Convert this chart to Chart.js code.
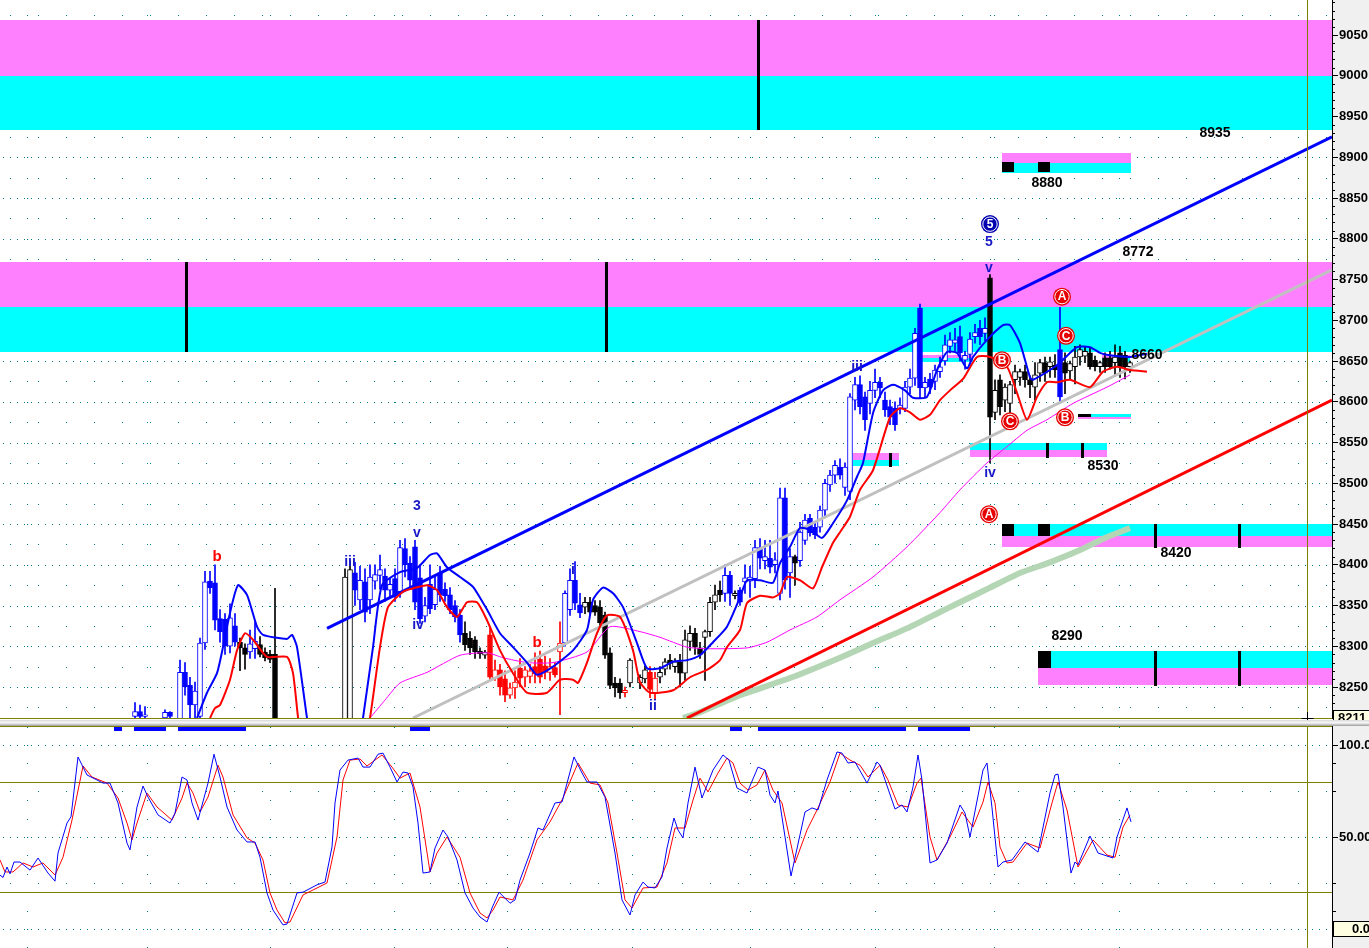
<!DOCTYPE html>
<html>
<head>
<meta charset="utf-8">
<title>Index futures – daily with stochastic</title>
<script src="https://cdn.jsdelivr.net/npm/chart.js@4.4.0/dist/chart.umd.min.js"></script>
<style>
  html, body { margin: 0; padding: 0; background: #ffffff; overflow: hidden; }
  #wrap { position: relative; width: 1369px; height: 948px; }
  #price { position: absolute; left: 0; top: 0; }
  #split { position: absolute; left: 0; top: 720px; width: 1369px; height: 6px;
           background: linear-gradient(#d8d8d8, #f8f8f8 45%, #c8c8c8 75%, #9a9a9a); }
  #osc { position: absolute; left: 0; top: 726px; }
</style>
</head>
<body>
<div id="wrap">
  <canvas id="price" width="1369" height="720"></canvas>
  <div id="split"></div>
  <canvas id="osc" width="1369" height="222"></canvas>
</div>
<script>
// ---------------------------------------------------------------------------
// Scale ranges
// ---------------------------------------------------------------------------
const SLOT_MAX = 266.4;          // bar slots across the price/oscillator area
const PRICE_MIN = 8212, PRICE_MAX = 9093;
const PRICE_STEP = 50;
const OSC_MIN = -10.33, OSC_MAX = 110.33;
const oscTicks = [0, 50, 100];
const oscTickText = ['0.00', '50.00', '100.0'];
const lastPrice = 8211;
const cursorSlot = 261.4;
const gridSlots = [5.4, 29.4, 54, 78.8, 101.4, 126.4, 150, 175, 198.8, 223.8];

// ---------------------------------------------------------------------------
// Daily bars: [slot, open, high, low, close, trend]  trend: b=up, r=down, k=neutral
// ---------------------------------------------------------------------------
const barsA = [
  [27,8214,8231,8210,8220,'b'],[28,8220,8228,8208,8214,'b'],[29,8214,8226,8208,8216,'b'],
  [33,8212,8222,8205,8219,'b'],[34,8219,8220,8210,8214,'b'],[36,8205,8283,8200,8268,'b'],
  [37,8268,8280,8240,8250,'b'],[38,8252,8262,8212,8228,'b'],[39,8228,8256,8210,8245,'b'],
  [40,8214,8310,8205,8304,'b'],[41,8304,8392,8296,8379,'b'],[42,8380,8392,8365,8372,'b'],
  [43,8378,8400,8320,8332,'b'],[44,8334,8345,8305,8318,'b'],[45,8333,8340,8290,8300,'b'],
  [46,8300,8352,8292,8335,'b'],[47,8325,8340,8300,8305,'b'],[48,8305,8310,8270,8298,'k'],
  [49,8298,8303,8272,8290,'k'],[50,8293,8320,8285,8303,'b'],[51,8297,8330,8285,8306,'b'],
  [52,8302,8312,8287,8290,'k'],[53,8293,8298,8282,8286,'k'],[54,8290,8295,8280,8284,'k'],
  [55,8290,8371,8150,8160,'k']
];
const barsB = [
  [69,8150,8395,8140,8385,'k'],[70,8160,8405,8150,8394,'k'],[71,8390,8403,8350,8369,'b'],
  [72,8357,8398,8345,8381,'b'],[73,8379,8395,8330,8342,'b'],[74,8357,8400,8340,8385,'b'],
  [75,8380,8400,8370,8388,'b'],[76,8387,8412,8370,8394,'b'],[77,8386,8395,8355,8369,'b'],
  [78,8369,8383,8360,8376,'b'],[79,8383,8395,8355,8362,'b'],[80,8367,8430,8360,8421,'b'],
  [81,8420,8432,8385,8400,'b'],[82,8402,8410,8370,8381,'b'],[83,8422,8430,8345,8354,'b'],
  [84,8384,8400,8328,8334,'b'],[85,8337,8360,8330,8350,'b'],[86,8376,8400,8340,8346,'b'],
  [87,8351,8385,8345,8370,'b'],[88,8390,8398,8355,8363,'b'],[89,8370,8378,8355,8362,'b'],
  [90,8363,8372,8340,8345,'b'],[91,8350,8356,8330,8336,'b'],[92,8338,8345,8305,8314,'b'],
  [93,8316,8330,8295,8302,'k'],[94,8310,8318,8290,8298,'k'],[95,8308,8312,8285,8293,'k'],
  [96,8294,8298,8285,8291,'k'],[97,8289,8295,8285,8293,'k'],[98,8314,8322,8258,8262,'r'],
  [99,8261,8283,8258,8271,'r'],[100,8271,8278,8240,8250,'r'],[101,8260,8270,8232,8240,'r'],
  [102,8240,8255,8236,8249,'r'],[103,8249,8270,8236,8256,'r'],[104,8273,8285,8250,8261,'r'],
  [105,8262,8275,8250,8271,'r'],[106,8263,8278,8255,8270,'r'],[107,8275,8292,8255,8266,'r'],
  [108,8284,8294,8255,8262,'r'],[109,8276,8288,8260,8268,'r'],[110,8268,8285,8258,8275,'r'],
  [111,8274,8280,8262,8265,'r'],[112,8293,8330,8216,8304,'r'],[113,8304,8368,8300,8365,'b'],
  [114,8345,8395,8338,8381,'b'],[115,8381,8404,8345,8353,'b'],[116,8351,8365,8335,8341,'b'],
  [117,8348,8360,8340,8354,'k'],[118,8354,8360,8338,8342,'k'],[119,8350,8356,8338,8342,'k'],
  [120,8348,8356,8325,8329,'k'],[121,8338,8342,8285,8289,'k'],[122,8292,8298,8248,8252,'k'],
  [123,8255,8262,8238,8249,'k'],[124,8255,8260,8236,8243,'k'],[125,8243,8250,8238,8246,'r'],
  [126,8255,8285,8250,8283,'k']
];
const barsC = [
  [128,8255,8265,8248,8262,'k'],[129,8260,8276,8255,8271,'k'],[130,8268,8275,8237,8247,'r'],
  [131,8243,8268,8235,8261,'r'],[132,8262,8275,8255,8268,'k'],[133,8272,8285,8265,8281,'k'],
  [134,8283,8290,8272,8279,'k'],[135,8275,8285,8268,8281,'k'],[136,8281,8290,8250,8267,'k'],
  [137,8267,8320,8258,8308,'k'],[138,8306,8325,8295,8316,'k'],[139,8316,8322,8290,8299,'k'],
  [140,8298,8305,8285,8290,'k'],[141,8311,8320,8258,8318,'k'],[142,8318,8360,8312,8354,'k'],
  [143,8354,8375,8345,8363,'k'],[144,8369,8380,8355,8363,'k'],[145,8365,8400,8355,8387,'b'],
  [146,8387,8392,8350,8365,'b'],[147,8362,8368,8358,8365,'k'],[148,8369,8372,8350,8354,'b'],
  [149,8379,8400,8365,8384,'b'],[150,8380,8398,8360,8385,'b'],[151,8383,8430,8372,8421,'b'],
  [152,8421,8432,8395,8408,'b'],[153,8405,8430,8395,8410,'b'],[154,8408,8430,8390,8397,'b'],
  [155,8400,8415,8390,8406,'b'],[156,8365,8494,8357,8482,'b'],[157,8482,8494,8370,8381,'b'],
  [158,8390,8420,8360,8410,'b'],[159,8410,8412,8375,8402,'k'],[160,8405,8452,8398,8440,'b'],
  [161,8430,8462,8425,8455,'b'],[162,8457,8462,8435,8439,'b'],[163,8446,8452,8432,8437,'b'],
  [164,8446,8472,8440,8467,'b'],[165,8467,8505,8460,8500,'b'],[166,8498,8516,8490,8510,'b'],
  [167,8510,8528,8500,8522,'b'],[168,8520,8530,8505,8510,'b'],[169,8495,8525,8485,8520,'b'],
  [170,8490,8610,8480,8606,'b'],[171,8602,8630,8590,8621,'b'],[172,8621,8632,8585,8594,'b'],
  [173,8606,8612,8565,8578,'b'],[174,8598,8625,8585,8614,'b'],[175,8614,8640,8605,8624,'b'],
  [176,8624,8630,8605,8617,'b'],[177,8602,8612,8582,8590,'b'],[178,8594,8602,8572,8581,'b'],
  [179,8592,8600,8565,8572,'b'],[180,8592,8605,8585,8596,'b'],[181,8592,8625,8588,8618,'b'],
  [182,8618,8640,8610,8629,'b'],[183,8629,8690,8620,8684,'b'],[184,8715,8720,8605,8617,'b'],
  [185,8617,8630,8605,8624,'b'],[186,8628,8635,8610,8618,'b'],[187,8625,8645,8615,8639,'b'],
  [188,8637,8655,8630,8643,'b'],[189,8650,8682,8645,8670,'b'],[190,8668,8685,8660,8676,'b'],
  [191,8672,8690,8662,8676,'b'],[192,8680,8693,8650,8660,'b'],[193,8651,8662,8640,8657,'b'],
  [194,8658,8685,8650,8677,'b'],[195,8680,8695,8672,8685,'b'],[196,8690,8700,8670,8680,'b'],
  [197,8684,8703,8675,8690,'b'],[198,8752,8756,8525,8581,'k'],[199,8587,8627,8578,8614,'k'],
  [200,8627,8633,8584,8594,'k'],[201,8602,8622,8588,8618,'k'],[202,8598,8625,8585,8621,'k'],
  [203,8627,8645,8610,8637,'k'],[204,8630,8640,8620,8637,'k'],[205,8637,8645,8618,8627,'k'],
  [206,8627,8632,8605,8621,'k'],[207,8618,8648,8602,8633,'k'],[208,8635,8652,8625,8648,'k'],
  [209,8648,8655,8625,8635,'k'],[210,8643,8655,8630,8649,'k'],[211,8645,8658,8630,8639,'k'],
  [212,8664,8716,8598,8606,'b'],[213,8648,8660,8610,8635,'k'],[214,8638,8650,8628,8647,'k'],
  [215,8643,8668,8622,8655,'k'],[216,8655,8670,8645,8664,'k'],[217,8656,8668,8648,8662,'k'],
  [218,8660,8666,8640,8643,'k'],[219,8651,8656,8638,8643,'k'],[220,8643,8650,8636,8648,'k'],
  [221,8654,8660,8636,8643,'k'],[222,8654,8662,8640,8643,'k'],[223,8648,8670,8633,8655,'k'],
  [224,8660,8668,8630,8643,'k'],[225,8657,8662,8628,8643,'k'],[226,8643,8650,8636,8648,'k']
];

// ---------------------------------------------------------------------------
// Averages and trend lines: [slot, price]
// ---------------------------------------------------------------------------
const maFast = [
  [39.4,8212],[41.4,8243],[43.4,8267],[44.6,8299],[46,8341],[47.6,8375],[49.4,8363],[51.4,8324],
  [52.6,8314],[57.4,8309],[58.4,8314],[59.4,8299],[61.4,8212],[63,8150],[71,8150],[72.6,8212],
  [74.6,8299],[76.4,8375],[80,8391],[83.4,8396],[86,8412],[87.4,8414],[89.4,8397],[92,8385],
  [94.6,8373],[97.4,8345],[100,8316],[102.6,8299],[105.4,8280],[107.4,8265],[110.6,8275],
  [114.6,8295],[117.4,8320],[118.6,8357],[120.6,8372],[122.6,8365],[124.6,8348],[127.4,8304],
  [129.4,8273],[132,8273],[134.6,8281],[137.4,8283],[140,8289],[142.6,8305],[145.4,8324],
  [148,8360],[149.4,8381],[152,8381],[154.6,8378],[156,8402],[158,8422],[160,8445],[162,8443],
  [164.4,8433],[166.6,8451],[169.4,8479],[171.4,8508],[172.6,8525],[174.6,8586],[176.6,8614],
  [178.6,8621],[181,8614],[182.6,8605],[185.4,8606],[187.4,8639],[189.4,8661],[191.4,8660],
  [193.4,8641],[194.6,8655],[197.4,8676],[200.6,8694],[202,8694],[204,8672],[206,8630],
  [206.6,8627],[210,8639],[212,8648],[215.4,8667],[218,8667],[220,8660],[222,8657],[226,8655],
  [229.4,8659]
];
const maSlow = [
  [42,8212],[43,8224],[44,8228],[46,8259],[47.4,8295],[49,8316],[50.6,8308],[53.4,8287],
  [57.4,8287],[58.6,8267],[59.6,8213],[61,8150],[72,8150],[74,8212],[76,8299],[77.6,8348],
  [80.6,8367],[82.6,8371],[85.4,8375],[87.4,8369],[89.4,8348],[91.4,8336],[93.4,8354],
  [95.4,8354],[97.4,8332],[100,8295],[102.6,8267],[105.4,8243],[109.4,8243],[112,8259],
  [114.6,8259],[115.6,8255],[117.4,8280],[119.4,8316],[121.4,8338],[124,8336],[126.6,8295],
  [128,8256],[130,8243],[134.6,8246],[138,8262],[141.4,8271],[144,8283],[145.4,8299],
  [148,8320],[149.4,8353],[152,8362],[154.6,8360],[156,8365],[157.4,8385],[160,8381],
  [162.6,8371],[164.4,8397],[166.6,8427],[168,8440],[170,8459],[172,8492],[174.6,8516],
  [178,8581],[180,8592],[182,8587],[184,8578],[186,8584],[188,8602],[190,8614],[192.6,8628],
  [195.4,8655],[198,8655],[201.4,8643],[203.4,8611],[205.4,8578],[207.4,8606],[209.4,8624],
  [211.4,8624],[214,8627],[218,8618],[220.6,8637],[223.4,8643],[226,8639],[229.4,8637]
];
const maMid = [
  [74,8212],[77,8234],[80,8255],[85.4,8268],[92,8289],[97.4,8292],[100.6,8286],[105.4,8280],
  [110.6,8280],[117.4,8293],[122,8324],[128,8318],[132,8311],[137.4,8299],[141.4,8297],
  [149.4,8298],[153.4,8305],[158,8320],[163.4,8336],[168,8357],[174.6,8385],[181.4,8422],
  [188,8464],[192,8492],[197.4,8525],[201.4,8545],[205.4,8565],[209.4,8578],[214.6,8598],
  [221.4,8618],[226,8633]
];
const maLong = [
  [136.6,8212],[140,8219],[148,8240],[158,8261],[168,8286],[174.6,8304],[181.4,8322],
  [188,8342],[192,8354],[198,8372],[204,8390],[210,8403],[216,8418],[221,8433],[226,8445]
];
const channelTop = [[65.4,8322],[266.4,8925]];
const channelBase = [[137.4,8212],[266.4,8602]];
const channelMid = [[82.6,8212],[266.4,8762]];

// ---------------------------------------------------------------------------
// Target / resistance zones: [slotFrom, slotTo, low, high]
// ---------------------------------------------------------------------------
const zonesMagenta = [
  [0,266.4,9000,9068.5],[0,266.4,8716,8771.5],[200.4,226.2,8893,8905],[183,194.6,8654,8657.5],
  [220.4,226,8654,8657.5],[215.6,226.2,8578.5,8581.5],[170.6,179.8,8529,8537],
  [194,221.4,8532,8541],[200.4,266.4,8422,8435],[207.6,266.4,8252,8273]
];
const zonesCyan = [
  [0,266.4,8933.5,9000],[0,266.4,8661,8716],[200.4,226.2,8881,8893],[183,194.6,8649,8654],
  [220.4,226,8649,8654],[215.6,226.2,8581.5,8585.5],[170.6,179.8,8521,8529],
  [194,221.4,8541,8549],[200.4,266.4,8435,8450],[207.6,266.4,8273,8294]
];
const zoneBlocks = [
  [200.4,202.8,8882,8894],[207.6,210,8882,8894],[215.6,218.2,8581.5,8585.5],
  [200.4,202.8,8435,8450],[207.6,210,8435,8450],[207.6,210.2,8273,8294]
];
// [slot, low, high]
const zoneMarks = [
  [151.6,8933.5,9068.5],[37.2,8661,8771.5],[121.2,8661,8771.5],[231,8420,8450],[247.8,8420,8450],
  [231,8251,8294],[247.8,8251,8294],[209.4,8531,8549],[216.4,8531,8549],[178,8520,8537]
];
const levelLabels = [
  ['8935',243,8930],['8880',209.4,8868],['8772',227.6,8784],['8660',229.4,8657],
  ['8530',220.6,8521],['8420',235.2,8414],['8290',213.4,8313]
];

// Wave counts: [text, slot, price]
const waveMajor = [
  ['3',83.4,8472],['v',83.4,8439],['iii',70,8403],['iv',83.6,8326],['i',114.6,8394],
  ['ii',130.6,8226],['iii',171.4,8643],['5',197.8,8796],['v',197.8,8764],['iv',198,8513]
];
const waveMinor = [['b',43.4,8410],['b',107.4,8304]];
const waveCircled = [
  ['A',197.8,8462],['A',212.4,8729],['C',213.2,8681],['B',200.4,8651],['C',202,8576],['B',213,8581]
];
const waveCircledMajor = [['5',198,8818]];

// ---------------------------------------------------------------------------
// Stochastic oscillator: [slot, value]
// ---------------------------------------------------------------------------
const stochK = [
  [0,29.3],[0.6,28],[1.4,33.7],[2,30],[2.8,36.4],[4,36.4],[6,32],[7.6,38.6],[9.6,30.4],[11,26],
  [11.6,41.3],[13.4,57.6],[14.2,61],[15.6,93.5],[17.4,83.7],[19.4,81],[20.6,79.3],[22,79.3],
  [23.6,68.5],[25.4,46.7],[26,43],[27.4,66.3],[28.6,77.7],[29.6,71.7],[31.6,62],[34,57.6],
  [35,63],[36.4,82.6],[37.4,81],[38.4,68.5],[39.6,59.2],[41.6,79.3],[42.8,95],[44,82.6],
  [45.4,66.3],[47.4,53.8],[49.4,47.3],[51,47.3],[52,39],[53.4,19.6],[54.6,10.3],[56.6,2.2],
  [57.4,2.7],[59.4,19.6],[60.6,20],[63.4,24],[65,25.5],[66.4,44.6],[67,68.5],[68,86.4],
  [69.6,91.8],[71.6,92.9],[72.6,88],[74,88],[75.6,95],[76.6,95.6],[78,88],[79.4,79.9],
  [80.6,85.3],[81.6,84.8],[82.6,77.2],[83.6,57.6],[84.6,30.4],[86,31],[87,44],[88.6,53.8],
  [89.6,50],[91.4,37.5],[93,19.6],[94.6,11.4],[96,6.5],[97.4,3.8],[98.4,11.4],[99.8,20],
  [102,14],[103,15.8],[104,26.6],[106,41.3],[107.6,54.9],[108.6,53.8],[111,68.5],[112.4,69],
  [114.8,93.5],[116.4,84.8],[117.4,79.9],[119.4,79.9],[121,71.7],[123,41.3],[124.4,15.8],
  [126,7.6],[127,18.5],[128.6,25.5],[129.6,22.8],[131,22.3],[132.4,28.3],[133.4,44],
  [134.8,60.3],[135.6,53.8],[136.6,49.5],[137.6,68.5],[139,88],[140.4,71.2],[142.6,86.4],
  [144.6,94.6],[145.8,91.8],[147.4,76.6],[149.4,73.9],[151.6,88],[153,86.4],[154,72.8],
  [155,68.5],[155.6,75],[158.2,28.8],[161,63.6],[162.4,65.8],[163.6,64.7],[165.4,81],
  [167.4,96.2],[168.4,95.6],[169.6,90.2],[171,90.8],[173.4,79.3],[175.4,90.8],[176,89],
  [179,65.2],[180.4,67.4],[181.4,63.6],[182.6,77.2],[183.6,94.6],[184.4,81],[186,35.9],
  [187.4,37.5],[189.4,46.7],[192,67.4],[193,63],[194,50],[196.6,86.4],[197.4,90.2],
  [198.4,65.8],[199.6,33.7],[200.6,36.4],[202.4,37.5],[205,47.3],[207.6,41.8],[210,73.9],
  [211,83.7],[211.6,84.2],[212.6,66.3],[214.2,30.4],[215,36.4],[215.6,34.8],[218,50.5],
  [219.6,41.3],[222.6,38.6],[223.4,50],[225.4,65.8],[226.2,58.2]
];
const stochD = [
  [0,37.5],[1,31],[2.6,31],[4.6,35.9],[6.6,33.7],[8.6,35.9],[11,29.3],[12.6,39],[14.4,59.2],
  [16.6,88.6],[18.4,82.6],[21.4,79.3],[23.6,71.2],[25.4,57.6],[26.4,48.4],[27.4,57.6],
  [29.4,73.9],[31.4,66.3],[34.4,59.2],[36.4,71.2],[37.4,79.3],[38.6,73.9],[40,63.6],
  [41.6,71.7],[43.6,89],[44.6,82.6],[46.6,62],[49.4,49.5],[51,46.7],[52.6,37.5],[54,19.6],
  [55.4,10.3],[57,3.3],[58,3.8],[60.6,18.5],[65.4,25],[67.4,50],[68.6,81],[70,91.8],
  [72,92.4],[73.4,88.6],[76.4,94.6],[78.4,88],[80,82],[82,84.8],[84,66.3],[86,31],[87.4,41.3],
  [89.4,50],[92,39],[94,19.6],[96,8.7],[97.4,6],[98.6,10.3],[100,17.4],[102.6,15.8],
  [104.6,26.6],[107.4,48.4],[110,58.2],[112.6,71.2],[115.6,90.2],[118,79.3],[120,78.3],
  [121.6,68.5],[123.4,41.3],[125,15.8],[126.4,11.4],[128.6,22.3],[131.4,22.8],[133.4,35.9],
  [135,54.9],[137,54.9],[138.6,70.1],[140,82],[141.6,74.5],[143.6,84.8],[145.4,92.9],
  [146.6,90.2],[148,79.3],[149.6,75.5],[151.4,78.3],[153,86.4],[154.6,75.5],[156.4,68.5],
  [159,35.9],[161.4,53.8],[163.4,64.7],[166,79.9],[168,95.6],[170,91.8],[172,89],[173.6,82.6],
  [176,89],[177.6,81],[179.6,67.4],[181.6,66.3],[183.4,79.3],[184.2,82],[186,50],[187.4,37.5],
  [190,50],[192.4,63.6],[194.6,55.4],[196.6,69],[197.6,79.9],[199,68.5],[200,44.6],
  [201.4,35.9],[202.6,36.4],[205.4,46.7],[208,44],[210.4,68.5],[211.6,79.9],[213.4,64.7],
  [215.6,33.7],[218.6,48.4],[221.4,40.2],[223,39],[224.6,55.4],[226,62]
];
// Signal strips shown along the top edge of the oscillator: [slotFrom, slotTo]
const signalStrips = [[22.8,24.4],[26.8,33.2],[35.6,49.2],[82,86],[146,148.4],[151.6,181.2],[183.6,194]];

// ---------------------------------------------------------------------------
// Styling
// ---------------------------------------------------------------------------
const FONT = "'Liberation Sans', Arial, sans-serif";
const AXIS_W = 37;
const COL = {
  up: '#0000ff', down: '#ff0000', flat: '#000000', magenta: '#ff80ff', cyan: '#00ffff',
  grid: '#008080', olive: '#808000', axisBg: '#f0f0f0', waveBlue: '#1818c8'
};
const trendColour = { b: COL.up, r: COL.down, k: COL.flat };

const allBars = barsA.concat(barsB, barsC);
const wickData = allBars.map(b => ({ x: b[0], y: [b[3], b[2]] }));
const bodyData = allBars.map(b => ({ x: b[0], y: [b[1], b[4]] }));
const wickColours = allBars.map(b => trendColour[b[5]]);
const bodyFill = allBars.map(b => (b[4] > b[1] ? '#ffffff' : trendColour[b[5]]));
const pts = arr => arr.map(([x, y]) => ({ x, y }));

function line(data, colour, width, order, tension) {
  return { type: 'line', data: pts(data), borderColor: colour, borderWidth: width, order,
           pointRadius: 0, fill: false, clip: 0, tension: tension || 0 };
}

function axisBackground(chart) {
  const { ctx, chartArea: a } = chart;
  ctx.save();
  ctx.fillStyle = COL.axisBg;
  ctx.fillRect(a.right, 0, chart.width - a.right, chart.height);
  ctx.restore();
}

function hDots(ctx, a, y, step, start) {
  const yy = Math.round(y);
  for (let x = a.left + start; x < a.right - 1; x += step) ctx.fillRect(Math.round(x), yy, 1, 1);
}

function dottedGrid(chart, dense, sparse, colStep) {
  const { ctx, chartArea: a, scales: { x, y } } = chart;
  ctx.save();
  ctx.fillStyle = COL.grid;
  dense.forEach(v => hDots(ctx, a, y.getPixelForValue(v), 7, 3));
  sparse.forEach(v => hDots(ctx, a, y.getPixelForValue(v), 28, 10));
  gridSlots.forEach(s => {
    const px = Math.round(x.getPixelForValue(s));
    for (let v = Math.ceil(y.min / colStep) * colStep; v <= y.max; v += colStep) {
      ctx.fillRect(px, Math.round(y.getPixelForValue(v)), 1, 1);
    }
  });
  ctx.restore();
}

function cursorLine(chart) {
  const { ctx, scales: { x } } = chart;
  const px = Math.round(x.getPixelForValue(cursorSlot)) + 0.5;
  ctx.save();
  ctx.strokeStyle = COL.olive;
  ctx.lineWidth = 1;
  ctx.beginPath();
  ctx.moveTo(px, 0);
  ctx.lineTo(px, chart.height);
  ctx.stroke();
  ctx.restore();
}

// ---------------------------------------------------------------------------
// Price panel decorations
// ---------------------------------------------------------------------------
const priceDecor = {
  id: 'priceDecor',
  beforeDraw(chart) { axisBackground(chart); },
  beforeDatasetsDraw(chart) {
    const { ctx, scales: { x, y } } = chart;
    const dense = [], sparse = [];
    for (let v = 8250; v <= 9050; v += 50) dense.push(v);
    for (let v = 8225; v <= 9075; v += 50) sparse.push(v);
    dottedGrid(chart, dense, sparse, 25);

    ctx.save();
    const rect = (z, colour) => {
      const x0 = x.getPixelForValue(z[0]), x1 = x.getPixelForValue(z[1]);
      const y0 = y.getPixelForValue(z[3]), y1 = y.getPixelForValue(z[2]);
      ctx.fillStyle = colour;
      ctx.fillRect(Math.round(x0), Math.round(y0), Math.round(x1) - Math.round(x0), Math.round(y1) - Math.round(y0));
    };
    zonesMagenta.forEach(z => rect(z, COL.magenta));
    zonesCyan.forEach(z => rect(z, COL.cyan));
    zoneBlocks.forEach(z => rect(z, '#000000'));
    ctx.fillStyle = '#000000';
    zoneMarks.forEach(m => {
      const px = Math.round(x.getPixelForValue(m[0]));
      const y0 = Math.round(y.getPixelForValue(m[2])), y1 = Math.round(y.getPixelForValue(m[1]));
      ctx.fillRect(px - 1, y0, 3, y1 - y0);
    });
    ctx.restore();
  },
  afterDatasetsDraw(chart) {
    const { ctx, chartArea: a, scales: { x, y } } = chart;
    ctx.save();
    ctx.textAlign = 'center';
    ctx.textBaseline = 'middle';

    ctx.font = 'bold 14px ' + FONT;
    ctx.fillStyle = '#000000';
    levelLabels.forEach(([t, s, p]) => ctx.fillText(t, x.getPixelForValue(s), y.getPixelForValue(p)));

    ctx.fillStyle = COL.waveBlue;
    waveMajor.forEach(([t, s, p]) => ctx.fillText(t, x.getPixelForValue(s), y.getPixelForValue(p)));
    ctx.fillStyle = COL.down;
    ctx.font = 'bold 15px ' + FONT;
    waveMinor.forEach(([t, s, p]) => ctx.fillText(t, x.getPixelForValue(s), y.getPixelForValue(p)));

    const circle = (t, s, p, fill) => {
      const cx = x.getPixelForValue(s), cy = y.getPixelForValue(p);
      ctx.beginPath();
      ctx.arc(cx, cy, 9, 0, Math.PI * 2);
      ctx.fillStyle = fill;
      ctx.fill();
      ctx.lineWidth = 1;
      ctx.strokeStyle = '#ffffff';
      ctx.beginPath();
      ctx.arc(cx, cy, 7.2, 0, Math.PI * 2);
      ctx.stroke();
      ctx.font = 'bold 12px ' + FONT;
      ctx.fillStyle = '#ffffff';
      ctx.fillText(t, cx, cy + 0.5);
    };
    waveCircled.forEach(([t, s, p]) => circle(t, s, p, '#e60000'));
    waveCircledMajor.forEach(([t, s, p]) => circle(t, s, p, '#0000b0'));

    // crosshair at the last traded price
    ctx.strokeStyle = COL.olive;
    ctx.lineWidth = 1;
    ctx.beginPath();
    ctx.moveTo(a.left, a.bottom + 0.5);
    ctx.lineTo(a.right, a.bottom + 0.5);
    ctx.stroke();
    ctx.restore();
    cursorLine(chart);

    const cx = Math.round(x.getPixelForValue(cursorSlot)) + 0.5;
    ctx.save();
    ctx.strokeStyle = '#000000';
    ctx.beginPath();
    ctx.moveTo(cx - 6, a.bottom + 0.5); ctx.lineTo(cx + 6, a.bottom + 0.5);
    ctx.moveTo(cx, a.bottom - 6); ctx.lineTo(cx, a.bottom + 2);
    ctx.stroke();
    ctx.restore();
  },
  afterDraw(chart) {
    const { ctx, chartArea: a, scales: { y } } = chart;
    ctx.save();
    ctx.fillStyle = '#000000';
    for (let v = 8220; v <= 9090; v += 10) {
      if (v % 50 === 0) continue;
      ctx.fillRect(a.right + 1, Math.round(y.getPixelForValue(v)), 2, 1);
    }
    // last price box
    ctx.fillStyle = '#ffffe1';
    ctx.fillRect(a.right + 1, 710, chart.width - a.right, 12);
    ctx.strokeStyle = '#000000';
    ctx.strokeRect(a.right + 1.5, 710.5, chart.width - a.right, 12);
    ctx.fillStyle = '#000000';
    ctx.font = 'bold 13px ' + FONT;
    ctx.textBaseline = 'middle';
    ctx.textAlign = 'left';
    ctx.fillText(String(lastPrice), a.right + 6, 718);
    ctx.restore();
  }
};

new Chart(document.getElementById('price'), {
  type: 'bar',
  data: {
    datasets: [
      line(maFast, COL.up, 2, 1, 0.2),
      line(maSlow, COL.down, 2, 2, 0.2),
      line(channelTop, COL.up, 3, 3),
      line(channelBase, COL.down, 3, 3),
      line(channelMid, '#c0c0c0', 3, 4),
      line(maMid, '#ff00ff', 1, 5, 0.2),
      line(maLong, '#b4d6b4', 6, 6, 0.2),
      { type: 'bar', data: bodyData, backgroundColor: bodyFill, borderColor: wickColours,
        borderWidth: 1, barThickness: 5, minBarLength: 1, order: 8 },
      { type: 'bar', data: wickData, backgroundColor: wickColours, borderWidth: 0,
        barThickness: 1, order: 9 }
    ]
  },
  options: {
    responsive: false, animation: false, devicePixelRatio: 1, events: [],
    layout: { padding: { left: 0, right: 0, top: 0, bottom: 2 } },
    plugins: { legend: { display: false }, tooltip: { enabled: false } },
    datasets: { bar: { grouped: false, borderSkipped: false, clip: 0 } },
    scales: {
      x: { type: 'linear', min: 0, max: SLOT_MAX, display: false, offset: false },
      y: {
        type: 'linear', position: 'right', min: PRICE_MIN, max: PRICE_MAX,
        ticks: { stepSize: PRICE_STEP, includeBounds: false, color: '#000000', padding: 1,
                 font: { family: FONT, size: 13, weight: 'bold' }, callback: v => String(v) },
        grid: { drawOnChartArea: false, drawTicks: true, tickLength: 6, tickColor: '#000000' },
        border: { display: true, color: '#000000', width: 1 },
        afterFit: s => { s.width = AXIS_W; s.paddingTop = 0; s.paddingBottom = 0; }
      }
    }
  },
  plugins: [priceDecor]
});

// ---------------------------------------------------------------------------
// Oscillator panel
// ---------------------------------------------------------------------------
const oscDecor = {
  id: 'oscDecor',
  beforeDraw(chart) { axisBackground(chart); },
  beforeDatasetsDraw(chart) {
    const { ctx, chartArea: a, scales: { x, y } } = chart;
    dottedGrid(chart, [0, 50, 100], [25, 75], 10);
    ctx.save();
    ctx.strokeStyle = COL.olive;
    ctx.lineWidth = 1;
    ctx.beginPath();
    [80, 20].forEach(v => {
      const py = Math.round(y.getPixelForValue(v)) + 0.5;
      ctx.moveTo(a.left, py); ctx.lineTo(a.right, py);
    });
    ctx.moveTo(a.left, a.top + 0.5); ctx.lineTo(a.right, a.top + 0.5);
    ctx.stroke();
    ctx.fillStyle = COL.up;
    signalStrips.forEach(([s0, s1]) => {
      const x0 = Math.round(x.getPixelForValue(s0)), x1 = Math.round(x.getPixelForValue(s1));
      ctx.fillRect(x0, a.top + 1, x1 - x0, 4);
    });
    ctx.restore();
  },
  afterDatasetsDraw(chart) { cursorLine(chart); },
  afterDraw(chart) {
    const { ctx, chartArea: a, scales: { y } } = chart;
    ctx.save();
    ctx.fillStyle = '#000000';
    [10, 25, 75, 90].forEach(v => ctx.fillRect(a.right + 1, Math.round(y.getPixelForValue(v)), 3, 1));
    const py = Math.round(y.getPixelForValue(0));
    ctx.fillStyle = '#ffffe1';
    ctx.fillRect(a.right + 1, py - 8, chart.width - a.right, 16);
    ctx.strokeStyle = '#000000';
    ctx.strokeRect(a.right + 1.5, py - 7.5, chart.width - a.right, 15);
    ctx.fillStyle = '#000000';
    ctx.font = 'bold 13px ' + FONT;
    ctx.textBaseline = 'middle';
    ctx.textAlign = 'left';
    ctx.fillText(oscTickText[0], a.right + 20, py + 0.5);
    ctx.restore();
  }
};

new Chart(document.getElementById('osc'), {
  type: 'line',
  data: {
    datasets: [
      line(stochK, COL.up, 1, 1),
      line(stochD, COL.down, 1, 2)
    ]
  },
  options: {
    responsive: false, animation: false, devicePixelRatio: 1, events: [],
    layout: { padding: 0 },
    plugins: { legend: { display: false }, tooltip: { enabled: false } },
    scales: {
      x: { type: 'linear', min: 0, max: SLOT_MAX, display: false, offset: false },
      y: {
        type: 'linear', position: 'right', min: OSC_MIN, max: OSC_MAX,
        afterBuildTicks: s => { s.ticks = oscTicks.map(value => ({ value })); },
        ticks: { color: '#000000', padding: 1, font: { family: FONT, size: 13, weight: 'bold' },
                 callback: v => (v === 0 ? '' : oscTickText[oscTicks.indexOf(v)]) },
        grid: { drawOnChartArea: false, drawTicks: true, tickLength: 6, tickColor: '#000000' },
        border: { display: true, color: '#000000', width: 1 },
        afterFit: s => { s.width = AXIS_W; s.paddingTop = 0; s.paddingBottom = 0; }
      }
    }
  },
  plugins: [oscDecor]
});
</script>
</body>
</html>
